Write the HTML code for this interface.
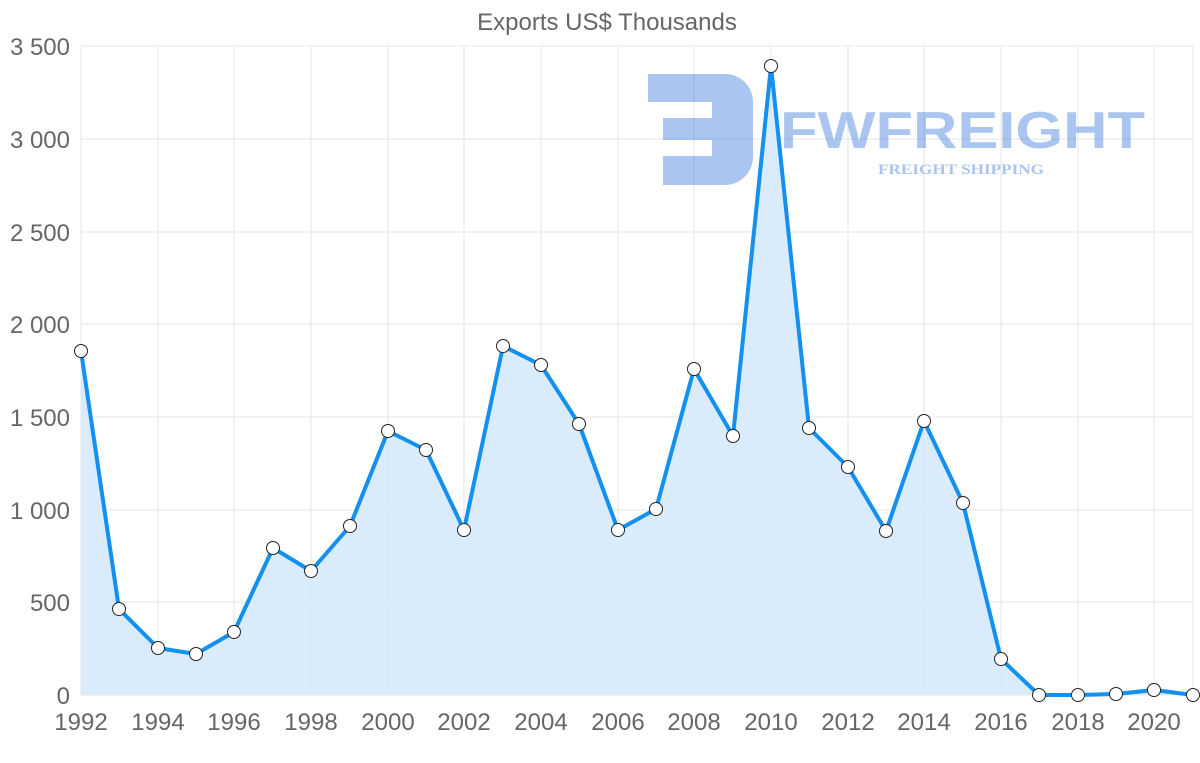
<!DOCTYPE html>
<html><head><meta charset="utf-8"><style>
html,body{margin:0;padding:0;background:#fff;}
svg{display:block;font-family:"Liberation Sans",sans-serif;}
</style></head><body>
<svg width="1200" height="763" viewBox="0 0 1200 763">
<text x="607" y="30" text-anchor="middle" font-size="24" fill="#666">Exports US$ Thousands</text>
<g stroke="#e5e5e5" stroke-width="1">
<line x1="81" y1="46" x2="1193" y2="46"/><line x1="81" y1="139" x2="1193" y2="139"/>
<line x1="81" y1="232" x2="1193" y2="232"/><line x1="81" y1="324" x2="1193" y2="324"/>
<line x1="81" y1="417" x2="1193" y2="417"/><line x1="81" y1="510" x2="1193" y2="510"/>
<line x1="81" y1="602" x2="1193" y2="602"/><line x1="81" y1="695" x2="1193" y2="695"/>
<line x1="81" y1="46" x2="81" y2="695"/><line x1="158" y1="46" x2="158" y2="695"/>
<line x1="234" y1="46" x2="234" y2="695"/><line x1="311" y1="46" x2="311" y2="695"/>
<line x1="388" y1="46" x2="388" y2="695"/><line x1="464" y1="46" x2="464" y2="695"/>
<line x1="541" y1="46" x2="541" y2="695"/><line x1="618" y1="46" x2="618" y2="695"/>
<line x1="694" y1="46" x2="694" y2="695"/><line x1="771" y1="46" x2="771" y2="695"/>
<line x1="848" y1="46" x2="848" y2="695"/><line x1="924" y1="46" x2="924" y2="695"/>
<line x1="1001" y1="46" x2="1001" y2="695"/><line x1="1078" y1="46" x2="1078" y2="695"/>
<line x1="1154" y1="46" x2="1154" y2="695"/><line x1="1193" y1="46" x2="1193" y2="695"/>
</g>
<g font-size="24" fill="#666" text-anchor="end">
<text x="70" y="55">3 500</text><text x="70" y="148">3 000</text><text x="70" y="241">2 500</text>
<text x="70" y="333">2 000</text><text x="70" y="426">1 500</text><text x="70" y="519">1 000</text>
<text x="70" y="611">500</text><text x="70" y="704">0</text>
</g>
<g font-size="24" fill="#666" text-anchor="middle">
<text x="81" y="730">1992</text><text x="158" y="730">1994</text><text x="234" y="730">1996</text>
<text x="311" y="730">1998</text><text x="388" y="730">2000</text><text x="464" y="730">2002</text>
<text x="541" y="730">2004</text><text x="618" y="730">2006</text><text x="694" y="730">2008</text>
<text x="771" y="730">2010</text><text x="848" y="730">2012</text><text x="924" y="730">2014</text>
<text x="1001" y="730">2016</text><text x="1078" y="730">2018</text><text x="1154" y="730">2020</text>
</g>
<g opacity="0.4" fill="#2e6fdc">
<path d="M648 74 H725 A28 28 0 0 1 753 102 V157 A28 28 0 0 1 725 185 H663 V156 H712 V140 H663 V118 H712 V102 H648 Z"/>
<text x="780" y="148" font-size="52" font-weight="bold" textLength="365" lengthAdjust="spacingAndGlyphs">FWFREIGHT</text>
<text x="961" y="174" font-size="15" font-weight="bold" text-anchor="middle" font-family="Liberation Serif,serif" textLength="166" lengthAdjust="spacingAndGlyphs">FREIGHT SHIPPING</text>
</g>
<path d="M81,351 L119,609 L158,648 L196,654 L234,632 L273,548 L311,571 L350,526 L388,431 L426,450 L464,530 L503,346 L541,365 L579,424 L618,530 L656,509 L694,369 L733,436 L771,66 L809,428 L848,467 L886,531 L924,421 L963,503 L1001,659 L1039,695 L1078,695 L1116,694 L1154,690 L1193,695 L1193,695 L81,695 Z" fill="#d6eafc" opacity="0.9"/>
<polyline points="81,351 119,609 158,648 196,654 234,632 273,548 311,571 350,526 388,431 426,450 464,530 503,346 541,365 579,424 618,530 656,509 694,369 733,436 771,66 809,428 848,467 886,531 924,421 963,503 1001,659 1039,695 1078,695 1116,694 1154,690 1193,695" fill="none" stroke="#1390f0" stroke-width="4" stroke-linejoin="round"/>
<g fill="#fff" stroke="#222" stroke-width="1">
<circle cx="81" cy="351" r="6.5"/><circle cx="119" cy="609" r="6.5"/><circle cx="158" cy="648" r="6.5"/>
<circle cx="196" cy="654" r="6.5"/><circle cx="234" cy="632" r="6.5"/><circle cx="273" cy="548" r="6.5"/>
<circle cx="311" cy="571" r="6.5"/><circle cx="350" cy="526" r="6.5"/><circle cx="388" cy="431" r="6.5"/>
<circle cx="426" cy="450" r="6.5"/><circle cx="464" cy="530" r="6.5"/><circle cx="503" cy="346" r="6.5"/>
<circle cx="541" cy="365" r="6.5"/><circle cx="579" cy="424" r="6.5"/><circle cx="618" cy="530" r="6.5"/>
<circle cx="656" cy="509" r="6.5"/><circle cx="694" cy="369" r="6.5"/><circle cx="733" cy="436" r="6.5"/>
<circle cx="771" cy="66" r="6.5"/><circle cx="809" cy="428" r="6.5"/><circle cx="848" cy="467" r="6.5"/>
<circle cx="886" cy="531" r="6.5"/><circle cx="924" cy="421" r="6.5"/><circle cx="963" cy="503" r="6.5"/>
<circle cx="1001" cy="659" r="6.5"/><circle cx="1039" cy="695" r="6.5"/><circle cx="1078" cy="695" r="6.5"/>
<circle cx="1116" cy="694" r="6.5"/><circle cx="1154" cy="690" r="6.5"/><circle cx="1193" cy="695" r="6.5"/>
</g>
</svg>
</body></html>
